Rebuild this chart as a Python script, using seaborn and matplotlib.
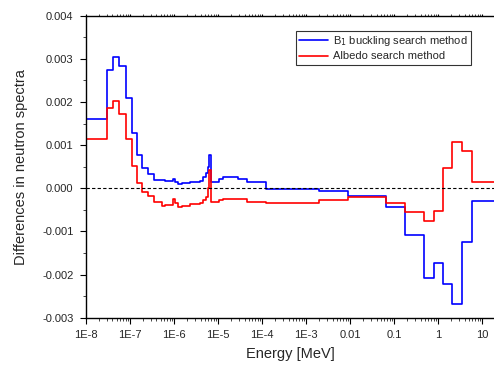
import numpy as np
import pandas as pd
import matplotlib
matplotlib.use("Agg")
import matplotlib.pyplot as plt
import matplotlib.ticker as mticker
import seaborn as sns

# group boundaries [MeV]
edges = [1e-8, 2.95e-8, 4.1e-8, 5.6e-8, 8.0e-8, 1.09e-7, 1.44e-7, 1.9e-7, 2.6e-7,
         3.5e-7, 5.2e-7, 6.2e-7, 9.3e-7, 1.05e-6, 1.24e-6, 1.49e-6, 2.3e-6, 3.9e-6,
         4.6e-6, 5.3e-6, 6.0e-6, 6.3e-6, 7.0e-6, 1.05e-5, 1.3e-5, 2.9e-5, 4.6e-5,
         7.5e-5, 1.26e-4, 1.95e-3, 9.0e-3, 0.065, 0.175, 0.47, 0.79, 1.29, 2.11,
         3.56, 6.0, 20.0]

# differences (x1e-3) per group
b1_diff = [1.60, 2.73, 3.05, 2.83, 2.09, 1.27, 0.77, 0.48, 0.32, 0.19, 0.19, 0.18,
           0.22, 0.15, 0.10, 0.13, 0.15, 0.18, 0.25, 0.35, 0.50, 0.76, 0.15, 0.21,
           0.25, 0.22, 0.14, 0.14, -0.02, -0.07, -0.18, -0.43, -1.08, -2.09, -1.74,
           -2.22, -2.68, -1.24, -0.29]
albedo_diff = [1.14, 1.85, 2.02, 1.72, 1.14, 0.52, 0.13, -0.08, -0.17, -0.31, -0.41,
               -0.39, -0.26, -0.35, -0.43, -0.41, -0.36, -0.33, -0.27, -0.21, 0.0,
               0.42, -0.31, -0.27, -0.24, -0.24, -0.32, -0.31, -0.33, -0.28, -0.21,
               -0.33, -0.54, -0.75, -0.52, 0.46, 1.07, 0.87, 0.15]

series_names = ["B$_1$ buckling search method", "Albedo search method"]
series_colors = ["#0000ff", "#ff0000"]

xtick_vals = [1e-8, 1e-7, 1e-6, 1e-5, 1e-4, 1e-3, 0.01, 0.1, 1, 10]
xtick_labels = ["1E-8", "1E-7", "1E-6", "1E-5", "1E-4", "1E-3", "0.01", "0.1", "1", "10"]

sns.set_style("ticks")
plt.rcParams["font.family"] = ["Liberation Sans", "DejaVu Sans"]

rows = []
for name, vals in zip(series_names, [b1_diff, albedo_diff]):
    v = list(vals) + [vals[-1]]
    for e, d in zip(edges, v):
        rows.append({"energy": e, "diff": d * 1e-3, "method": name})
df = pd.DataFrame(rows)

fig = plt.figure(figsize=(4.94, 3.65), dpi=100)
ax = fig.add_axes([0.174, 0.1296, 0.826, 0.8274])

sns.lineplot(data=df, x="energy", y="diff", hue="method", palette=series_colors,
             drawstyle="steps-post", linewidth=1.2, ax=ax, sort=False,
             estimator=None)
ax.axhline(0, color="black", linestyle=(0, (3, 2)), linewidth=0.8)

ax.set_xscale("log")
ax.set_xlim(1e-8, 18.5)
ax.set_ylim(-0.003, 0.004)
ax.set_xticks(xtick_vals)
ax.set_xticklabels(xtick_labels)
ax.xaxis.set_minor_locator(mticker.LogLocator(base=10, subs=np.arange(2, 10), numticks=20))
ax.xaxis.set_minor_formatter(mticker.NullFormatter())
ax.yaxis.set_major_locator(mticker.MultipleLocator(0.001))
ax.yaxis.set_minor_locator(mticker.MultipleLocator(0.0005))
ax.yaxis.set_major_formatter(mticker.FormatStrFormatter("%.3f"))

ax.tick_params(axis="both", which="major", labelsize=8, length=4, width=0.8,
               direction="out", color="black", pad=5)
ax.tick_params(axis="both", which="minor", length=2.5, width=0.6, direction="out")
# faint short ticks along the top border
ax.tick_params(axis="x", which="both", top=True)
ax.tick_params(axis="x", which="major", top=True, length=4)
for t in ax.xaxis.get_major_ticks() + ax.xaxis.get_minor_ticks():
    t.tick2line.set_markersize(1.2)
    t.tick2line.set_color("#555555")
for s in ["left", "bottom", "top"]:
    ax.spines[s].set_linewidth(1.0)
    ax.spines[s].set_color("black")
ax.spines["right"].set_visible(False)

ax.set_xlabel("Energy [MeV]", fontsize=10.5, labelpad=5)
ax.set_ylabel("Differences in neutron spectra", fontsize=10.5, labelpad=10)

leg = ax.legend(loc="upper right", bbox_to_anchor=(0.943, 0.950), fontsize=8,
                frameon=True, fancybox=False, handlelength=2.6, borderpad=0.3,
                labelspacing=0.3, handletextpad=0.4, borderaxespad=0)
leg.get_frame().set_edgecolor("black")
leg.get_frame().set_linewidth(0.8)

fig.savefig("out.png", dpi=100)
